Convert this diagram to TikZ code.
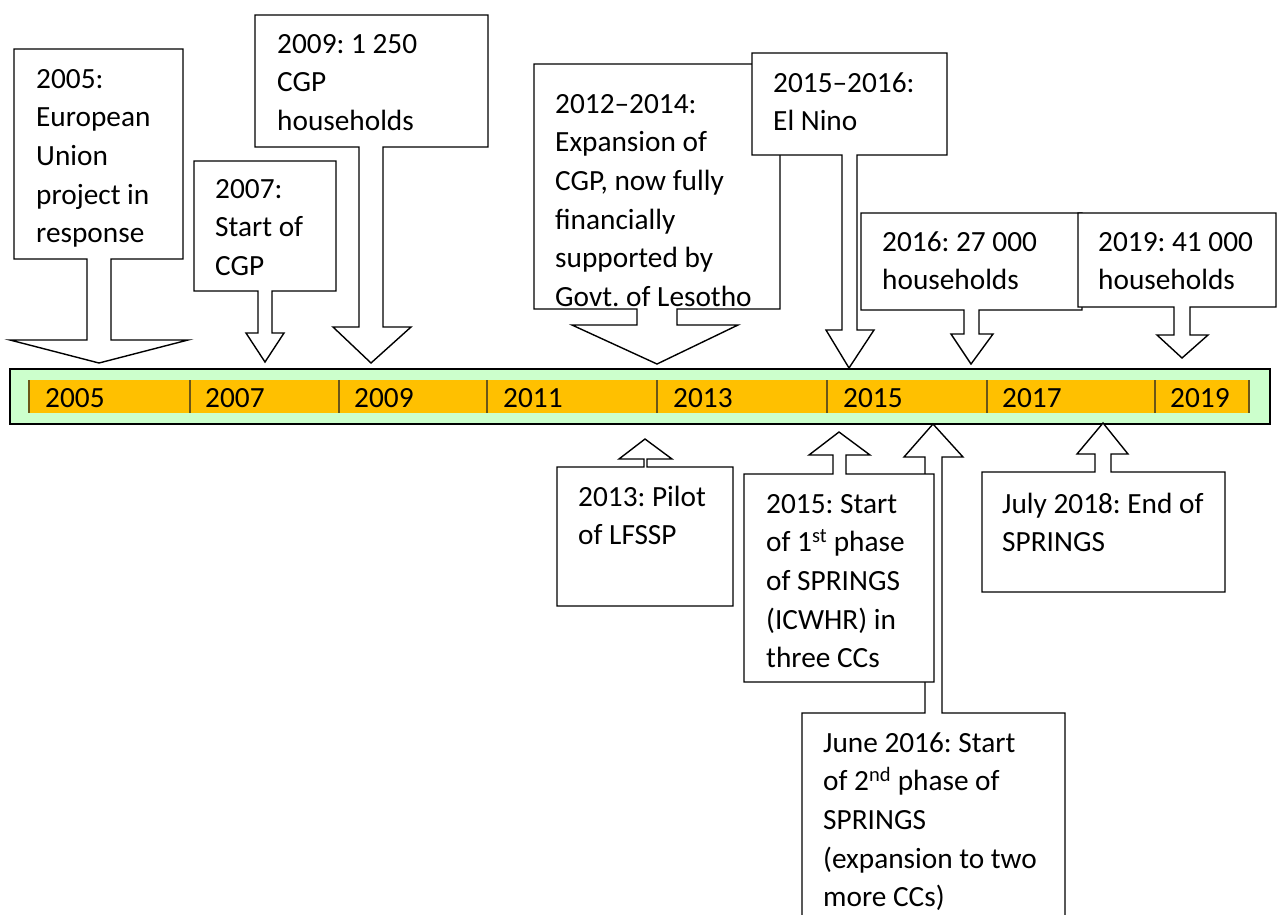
\documentclass[tikz,border=0pt]{standalone}
\usepackage{fontspec}
\setmainfont{Carlito}
\frenchspacing
\definecolor{barfill}{HTML}{CCFFCC}
\definecolor{yearband}{HTML}{FFC000}
\definecolor{tickc}{HTML}{6B5618}
\begin{document}
\begin{tikzpicture}[x=1pt,y=-1pt,
  lbl/.style={inner sep=0pt, anchor=north west, align=left,
    font=\fontsize{29.3}{38.6}\selectfont},
  yr/.style={inner sep=0pt, anchor=base west,
    font=\fontsize{29.3}{38.6}\selectfont},
  callout/.style={draw=black, fill=white, line width=1.4pt, line join=miter},
  yeartick/.style={draw=tickc, line width=1.3pt}]
\useasboundingbox (0,0) rectangle (1277,914);
\clip (0,0) rectangle (1277,914);

% ---- time line ----
\draw[fill=barfill, line width=2pt] (10,369) rectangle (1270,424);
\fill[yearband] (29,380) rectangle (1249,413);
\foreach \x in {29,190,339,487,657,827,987,1155,1249}
  \draw[yeartick] (\x,380) -- (\x,413);
\node[yr] (y2005) at (45,407) {2005};
\node[yr] (y2007) at (205,407) {2007};
\node[yr] (y2009) at (354,407) {2009};
\node[yr] (y2011) at (503,407) {2011};
\node[yr] (y2013) at (673,407) {2013};
\node[yr] (y2015) at (843,407) {2015};
\node[yr] (y2017) at (1002,407) {2017};
\node[yr] (y2019) at (1170,407) {2019};

% ---- callouts above the line (pointing down) ----
\draw[callout] (14,49) -- (183,49) -- (183,259) -- (111,259) -- (111,340) -- (188,340)
  -- (99,363) -- (10,340) -- (87,340) -- (87,259) -- (14,259) -- cycle;
\node[lbl] (t2005) at (36,88-27) {\strut 2005:\\European\\Union\\project in\\response};

\draw[callout] (194,161) -- (336,161) -- (336,291) -- (272,291) -- (272,333) -- (284,333)
  -- (265,362) -- (246,333) -- (258,333) -- (258,291) -- (194,291) -- cycle;
\node[lbl] (t2007) at (215,198-27) {\strut 2007:\\Start of\\CGP};

\draw[callout] (255,15) -- (488,15) -- (488,147) -- (383,147) -- (383,327) -- (411,327)
  -- (371,363) -- (333,327) -- (359,327) -- (359,147) -- (255,147) -- cycle;
\node[lbl] (t2009) at (277,53-27) {\strut 2009: 1 250\\CGP\\households};

\draw[callout] (534,64) -- (780,64) -- (780,309) -- (677,309) -- (677,325) -- (738,325)
  -- (657,364) -- (572,325) -- (637,325) -- (637,309) -- (534,309) -- cycle;
\node[lbl] (t2012) at (555,113-27) {\strut 2012–2014:\\Expansion of\\CGP, now fully\\financially\\supported by\\Govt. of Lesotho};

\draw[callout] (752,53) -- (947,53) -- (947,155) -- (857,155) -- (857,330) -- (874,330)
  -- (849,368) -- (826,330) -- (842,330) -- (842,155) -- (752,155) -- cycle;
\node[lbl] (tnino) at (773,92-27) {\strut 2015–2016:\\El Nino};

\draw[callout] (861,213) -- (1082,213) -- (1082,310) -- (979,310) -- (979,334) -- (993,334)
  -- (971,364) -- (951,334) -- (964,334) -- (964,310) -- (861,310) -- cycle;
\node[lbl] (t2016) at (882,251-27) {\strut 2016: 27 000\\households};

\draw[callout] (1078,213) -- (1276,213) -- (1276,307) -- (1190,307) -- (1190,335) -- (1208,335)
  -- (1182,358) -- (1157,335) -- (1174,335) -- (1174,307) -- (1078,307) -- cycle;
\node[lbl] (t2019) at (1098,251-27) {\strut 2019: 41 000\\households};

% ---- callouts below the line (pointing up) ----
\draw[callout] (557,467) -- (644,467) -- (644,459) -- (619,459) -- (645,439) -- (672,459)
  -- (647,459) -- (647,467) -- (733,467) -- (733,606) -- (557,606) -- cycle;
\node[lbl] (t2013) at (578,506-27) {\strut 2013: Pilot\\of LFSSP};

\draw[callout] (802,713) -- (925,713) -- (925,457) -- (904,457) -- (933,424) -- (963,457)
  -- (942,457) -- (942,713) -- (1065,713) -- (1065,930) -- (802,930) -- cycle;
\node[lbl] (tjune) at (823,752-27) {\strut June 2016: Start\\of 2\textsuperscript{nd} phase of\\SPRINGS\\(expansion to two\\more CCs)};

\draw[callout] (744,474) -- (833,474) -- (833,455) -- (809,455) -- (839,432) -- (870,455)
  -- (846,455) -- (846,474) -- (934,474) -- (934,682) -- (744,682) -- cycle;
\node[lbl] (t2015) at (766,513-27) {\strut 2015: Start\\of 1\textsuperscript{st} phase\\of SPRINGS\\(ICWHR) in\\three CCs};

\draw[callout] (982,472) -- (1095,472) -- (1095,454) -- (1077,454) -- (1103,423) -- (1128,454)
  -- (1111,454) -- (1111,472) -- (1225,472) -- (1225,592) -- (982,592) -- cycle;
\node[lbl] (tjuly) at (1002,513-27) {\strut July 2018: End of\\SPRINGS};
\end{tikzpicture}
\end{document}
